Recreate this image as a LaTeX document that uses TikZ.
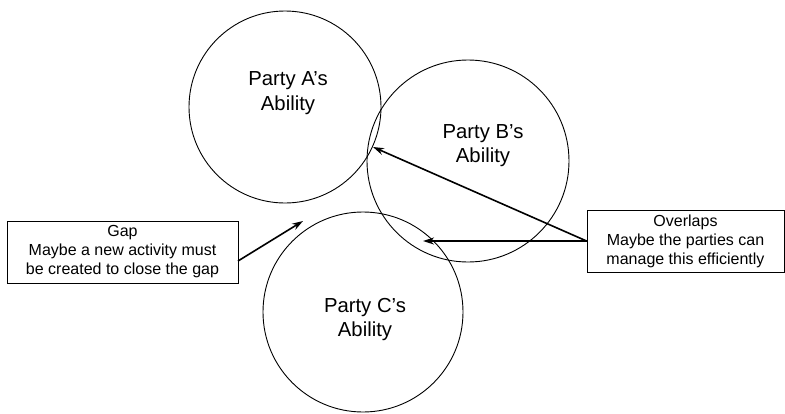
\documentclass[tikz,border=0pt]{standalone}
\usepackage{fontspec}
\setmainfont{Liberation Sans}
\usetikzlibrary{arrows.meta}
\begin{document}
\begin{tikzpicture}[x=1pt,y=-1pt,
  party/.style={draw,circle,line width=0.9pt,inner sep=0pt},
  label/.style={align=center,font=\fontsize{20.3}{24.5}\selectfont},
  note/.style={draw,line width=0.9pt,align=center,inner sep=0pt,
    font=\fontsize{16}{19}\selectfont},
  pointer/.style={line width=1.6pt,-{Stealth[length=11pt,width=7pt]}}]
\useasboundingbox (0,0) rectangle (785,413);
% three ability circles
\node[party,minimum size=192pt] (A) at (285,107) {};
\node[party,minimum size=202pt] (B) at (468,161) {};
\node[party,minimum size=200pt] (C) at (363,312) {};
\node[label] (At) at (288,93) {Party A’s\\Ability};
\node[label] (Bt) at (483,145.5) {Party B’s\\Ability};
\node[label] (Ct) at (365,319.5) {Party C’s\\Ability};
% explanation boxes
\node[note,minimum width=231pt,minimum height=62pt] (gap) at (122.5,252) {Gap\\Maybe a new activity must\\be created to close the gap};
\node[note,minimum width=197pt,minimum height=62pt] (ovl) at (685.5,241) {Overlaps\\Maybe the parties can\\manage this efficiently};
% pointers
\coordinate (gapStart) at (238,261);
\coordinate (gapEnd) at (303,221);
\coordinate (ab) at (373,147);
\coordinate (bc) at (423,241);
\draw[pointer] (gapStart) -- (gapEnd);
\draw[pointer] (ovl.west) -- (ab);
\draw[pointer] (ovl.west) -- (bc);
\end{tikzpicture}
\end{document}
